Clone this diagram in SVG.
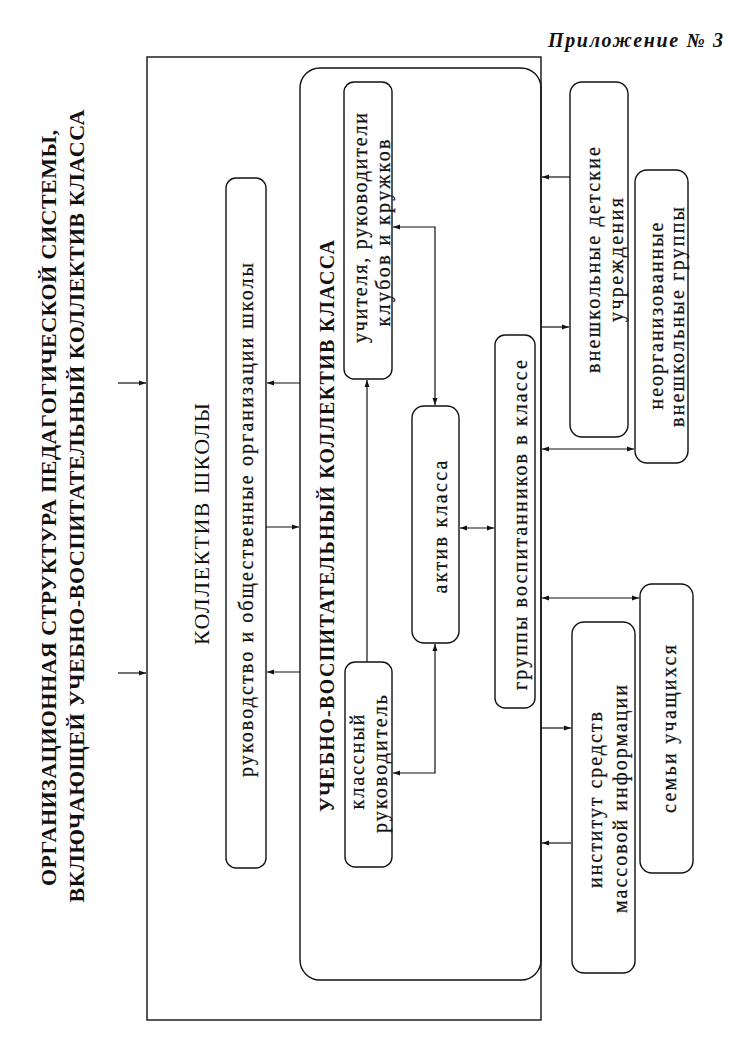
<svg xmlns="http://www.w3.org/2000/svg" width="738" height="1041" viewBox="0 0 738 1041">
<style>
.box{fill:none;stroke:#111;stroke-width:1.4}
.ln{fill:none;stroke:#111;stroke-width:1.2}
text{font-family:"Liberation Serif","DejaVu Serif",serif;fill:#111;text-anchor:middle}
.t{font-size:22px;font-weight:bold}
.h{font-size:22px}
.hb{font-size:20px;font-weight:bold}
.n{font-size:20px;stroke:#111;stroke-width:0.25}
.it{font-size:20px;font-style:italic;font-weight:bold;text-anchor:start}
</style>
<defs>
<marker id="a" markerUnits="userSpaceOnUse" markerWidth="8" markerHeight="6" refX="7" refY="3" orient="auto-start-reverse">
<path d="M0,0.5 L7,3 L0,5.5 Z" fill="#111"/>
</marker>
</defs>
<rect width="738" height="1041" fill="#fff"/>
<g id="title">
<text class="t" transform="translate(56,508) rotate(-90)" textLength="756" lengthAdjust="spacing">ОРГАНИЗАЦИОННАЯ СТРУКТУРА ПЕДАГОГИЧЕСКОЙ СИСТЕМЫ,</text>
<text class="t" transform="translate(84,506) rotate(-90)" textLength="793" lengthAdjust="spacing">ВКЛЮЧАЮЩЕЙ УЧЕБНО-ВОСПИТАТЕЛЬНЫЙ КОЛЛЕКТИВ КЛАССА</text>
</g>
<g id="appendix"><text class="it" x="548" y="47" textLength="175" lengthAdjust="spacing">Приложение № 3</text></g>
<g id="school">
<rect class="box" x="147" y="57" width="394" height="963"/>
<text class="h" transform="translate(209,524) rotate(-90)" textLength="242" lengthAdjust="spacing">КОЛЛЕКТИВ ШКОЛЫ</text>
</g>
<g id="leadership">
<rect class="box" x="226" y="178" width="40" height="690" rx="10"/>
<text class="n" transform="translate(253,520) rotate(-90)" textLength="514" lengthAdjust="spacing">руководство и общественные организации школы</text>
</g>
<g id="class-collective">
<rect class="box" x="300" y="68" width="241" height="912" rx="20"/>
<text class="hb" transform="translate(334,526) rotate(-90)" textLength="572" lengthAdjust="spacing">УЧЕБНО-ВОСПИТАТЕЛЬНЫЙ КОЛЛЕКТИВ КЛАССА</text>
</g>
<g id="teachers">
<rect class="box" x="344" y="82" width="48" height="297" rx="10"/>
<text class="n" transform="translate(367,228) rotate(-90)" textLength="230" lengthAdjust="spacing">учителя, руководители</text>
<text class="n" transform="translate(390,233) rotate(-90)" textLength="187" lengthAdjust="spacing">клубов и кружков</text>
</g>
<g id="class-teacher">
<rect class="box" x="345" y="662" width="47" height="205" rx="10"/>
<text class="n" transform="translate(364,762) rotate(-90)" textLength="95" lengthAdjust="spacing">классный</text>
<text class="n" transform="translate(387,764) rotate(-90)" textLength="138" lengthAdjust="spacing">руководитель</text>
</g>
<g id="activists">
<rect class="box" x="412" y="406" width="47" height="237" rx="12"/>
<text class="n" transform="translate(447,527) rotate(-90)" textLength="133" lengthAdjust="spacing">актив класса</text>
</g>
<g id="groups">
<rect class="box" x="495" y="335" width="40" height="373" rx="10"/>
<text class="n" transform="translate(527,525) rotate(-90)" textLength="330" lengthAdjust="spacing">группы воспитанников в классе</text>
</g>
<g id="out-of-school">
<rect class="box" x="570" y="82" width="58" height="355" rx="12"/>
<text class="n" transform="translate(600,260) rotate(-90)" textLength="226" lengthAdjust="spacing">внешкольные детские</text>
<text class="n" transform="translate(623,260) rotate(-90)" textLength="124" lengthAdjust="spacing">учреждения</text>
</g>
<g id="unorganized">
<rect class="box" x="635" y="170" width="53" height="293" rx="12"/>
<text class="n" transform="translate(663,316) rotate(-90)" textLength="187" lengthAdjust="spacing">неорганизованные</text>
<text class="n" transform="translate(684,317) rotate(-90)" textLength="220" lengthAdjust="spacing">внешкольные группы</text>
</g>
<g id="media">
<rect class="box" x="572" y="622" width="63" height="351" rx="12"/>
<text class="n" transform="translate(602,800) rotate(-90)" textLength="176" lengthAdjust="spacing">институт средств</text>
<text class="n" transform="translate(627,799) rotate(-90)" textLength="228" lengthAdjust="spacing">массовой информации</text>
</g>
<g id="families">
<rect class="box" x="640" y="584" width="53" height="289" rx="12"/>
<text class="n" transform="translate(676,729) rotate(-90)" textLength="168" lengthAdjust="spacing">семьи учащихся</text>
</g>
<g id="connectors">
<path class="ln" d="M118,383 H146" marker-end="url(#a)"/>
<path class="ln" d="M118,673 H146" marker-end="url(#a)"/>
<path class="ln" d="M300,383 H267" marker-end="url(#a)"/>
<path class="ln" d="M266,527 H299" marker-end="url(#a)"/>
<path class="ln" d="M300,672 H267" marker-end="url(#a)"/>
<path class="ln" d="M367,662 V380" marker-end="url(#a)"/>
<path class="ln" d="M393,227 H435 V405" marker-start="url(#a)" marker-end="url(#a)"/>
<path class="ln" d="M435,644 V773 H393" marker-start="url(#a)" marker-end="url(#a)"/>
<path class="ln" d="M460,528 H494" marker-start="url(#a)" marker-end="url(#a)"/>
<path class="ln" d="M570,177 H542" marker-end="url(#a)"/>
<path class="ln" d="M541,327 H569" marker-end="url(#a)"/>
<path class="ln" d="M542,449 H634" marker-start="url(#a)" marker-end="url(#a)"/>
<path class="ln" d="M542,598 H639" marker-start="url(#a)" marker-end="url(#a)"/>
<path class="ln" d="M541,728 H571" marker-end="url(#a)"/>
<path class="ln" d="M571,843 H542" marker-end="url(#a)"/>
</g>
</svg>
